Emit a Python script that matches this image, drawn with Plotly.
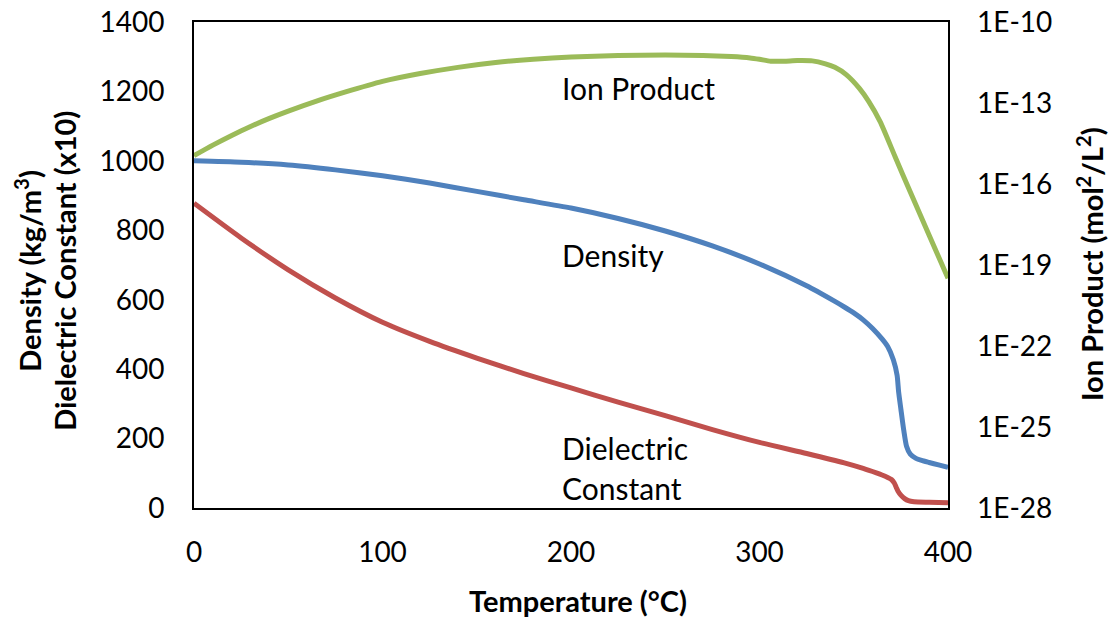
import plotly.graph_objects as go

# Temperature (°C) and density (kg/m3)
dens_T = [0, 25, 50, 75, 100, 125, 150, 175, 200, 225, 250, 275, 300, 325, 340, 345,
          350, 355, 360, 365, 368, 371, 373, 373.8, 375, 376.5, 378, 380, 383, 386, 390, 395, 400]
dens_V = [1000, 996, 988, 974, 957, 936, 912, 888, 864, 834, 798, 755, 703, 640, 595, 579,
          562, 542, 517, 487, 465, 427, 382, 335, 285, 225, 178, 155, 143, 137, 131, 124, 117]

# Dielectric constant (x10)
diel_T = [0, 25, 50, 75, 100, 125, 150, 175, 200, 225, 250, 275, 300, 325, 345, 355, 362,
          365, 368, 370, 371.5, 372.5, 373.5, 375, 377, 379, 382, 390, 400]
diel_V = [878, 778, 686, 605, 535, 480, 432, 387, 346, 305, 266, 226, 189, 157, 130, 114, 101,
          95, 88, 82, 72, 60, 48, 37, 27, 21, 18, 16.5, 15]

# Ion product, log10(Kw)
ion_T = [0, 10, 20, 30, 40, 50, 65, 80, 100, 120, 140, 160, 180, 200, 225, 250, 270, 285,
         295, 300, 306, 313, 320, 328, 335, 340, 346, 353, 358, 364, 372, 380, 390, 400]
ion_log = [-14.95, -14.56, -14.2, -13.87, -13.57, -13.3, -12.93, -12.6, -12.2, -11.91, -11.68,
           -11.5, -11.38, -11.3, -11.24, -11.22, -11.24, -11.28, -11.33, -11.38, -11.45, -11.45,
           -11.43, -11.44, -11.55, -11.68, -11.95, -12.46, -12.95, -13.69, -15.0, -16.3, -17.9, -19.49]
ion_V = [10 ** v for v in ion_log]

x_ticks = [0, 100, 200, 300, 400]
y_ticks = [0, 200, 400, 600, 800, 1000, 1200, 1400]
y2_exps = [-28, -25, -22, -19, -16, -13, -10]
y2_ticks = [10 ** e for e in y2_exps]
y2_text = ["1E%d" % e for e in y2_exps]

FONT = "Lato"
fig = go.Figure()
fig.add_trace(go.Scatter(x=dens_T, y=dens_V, mode="lines", name="Density",
                         line=dict(color="#4F81BD", width=5, shape="spline", smoothing=0.6)))
fig.add_trace(go.Scatter(x=diel_T, y=diel_V, mode="lines", name="Dielectric Constant",
                         line=dict(color="#C0504D", width=5, shape="spline", smoothing=0.6)))
fig.add_trace(go.Scatter(x=ion_T, y=ion_V, mode="lines", name="Ion Product", yaxis="y2",
                         line=dict(color="#9BBB59", width=5, shape="spline", smoothing=0.6)))

fig.update_layout(
    width=1108, height=619,
    margin=dict(l=194, r=160, t=22, b=111),
    paper_bgcolor="white", plot_bgcolor="white",
    showlegend=False,
    font=dict(family=FONT, size=28, color="black"),
    xaxis=dict(range=[0, 400], tickvals=x_ticks, showgrid=False, zeroline=False, automargin=False,
               showline=True, linecolor="black", linewidth=2, mirror=True,
               ticks="", ticklabelstandoff=18, tickfont=dict(size=28)),
    yaxis=dict(range=[0, 1400], tickvals=y_ticks, showgrid=False, zeroline=False, automargin=False,
               showline=True, linecolor="black", linewidth=2, mirror=True,
               ticks="", ticklabelstandoff=22, tickfont=dict(size=28)),
    yaxis2=dict(type="log", range=[-28, -10], overlaying="y", side="right", automargin=False,
                tickvals=y2_ticks, ticktext=y2_text, showgrid=False, zeroline=False,
                showline=False, ticks="", ticklabelstandoff=28, tickfont=dict(size=28)),
)

ann = [
    dict(text="Ion Product", x=194.2, y=0.864),
    dict(text="Density", x=194.2, y=0.521),
    dict(text="Dielectric", x=194.2, y=0.124),
    dict(text="Constant", x=194.2, y=0.042),
]
for a in ann:
    fig.add_annotation(text=a["text"], x=a["x"], y=a["y"], xref="x", yref="paper",
                       xanchor="left", yanchor="middle", showarrow=False,
                       font=dict(family=FONT, size=30, color="black"))

titles = [
    dict(text="<b>Temperature (°C)</b>", x=0.509, y=(508 - 600) / 486, angle=0),
    dict(text="<b>Density (kg/m<sup>3</sup>)</b>", x=(28 - 194) / 754, y=0.488, angle=-90),
    dict(text="<b>Dielectric Constant (x10)</b>", x=(65 - 194) / 754, y=0.488, angle=-90),
    dict(text="<b>Ion Product (mol<sup>2</sup>/L<sup>2</sup>)</b>", x=(1090 - 194) / 754, y=0.502, angle=-90),
]
for t in titles:
    fig.add_annotation(text=t["text"], x=t["x"], y=t["y"], xref="paper", yref="paper",
                       xanchor="center", yanchor="middle", showarrow=False, textangle=t["angle"],
                       font=dict(family=FONT, size=29, color="black"))

fig.write_html("out.html")
